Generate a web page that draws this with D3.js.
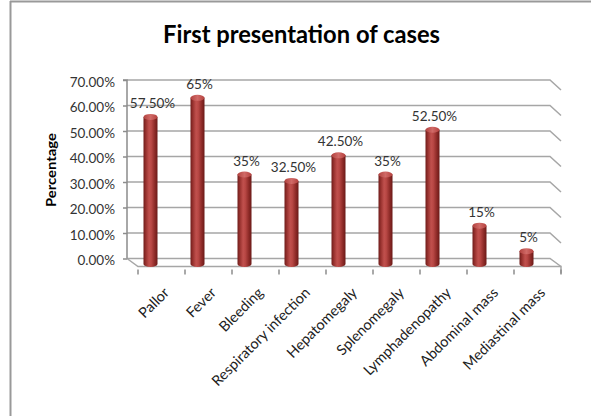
<!DOCTYPE html>
<html>
<head>
<meta charset="utf-8">
<script src="https://cdn.jsdelivr.net/npm/d3@7/dist/d3.min.js"></script>
<style>
html,body{margin:0;padding:0;background:#fff;}
svg{display:block;}
</style>
</head>
<body>
<svg id="chart" width="591" height="416"></svg>
<script>
const categories = ["Pallor","Fever","Bleeding","Respiratory infection","Hepatomegaly","Splenomegaly","Lymphadenopathy","Abdominal mass","Mediastinal mass"];
const values = [57.5, 65, 35, 32.5, 42.5, 35, 52.5, 15, 5];
const valueLabels = ["57.50%","65%","35%","32.50%","42.50%","35%","52.50%","15%","5%"];
const yTicks = [0,10,20,30,40,50,60,70];
const yTickLabels = ["0.00%","10.00%","20.00%","30.00%","40.00%","50.00%","60.00%","70.00%"];
const title = "First presentation of cases";
const yTitle = "Percentage";

const svg = d3.select("#chart");
const FONT = "Lato, 'Open Sans', sans-serif";

// depth offset of the 3D box (back wall -> front edge)
const DX = 11, DY = 8;

// scales
const xBack = d3.scaleBand().domain(categories).range([127, 550]);
const xFront = d3.scaleBand().domain(categories).range([127 + DX, 550 + DX]);
const yBack = d3.scaleLinear().domain([0, 70]).range([258.5, 80]);
const yCyl = d3.scaleLinear().domain([0, 70]).range([264, 85]);

// defs: cylinder gradient
const defs = svg.append("defs");
const g1 = defs.append("linearGradient").attr("id","cyl").attr("x1","0").attr("x2","1").attr("y1","0").attr("y2","0");
[["0%","#6f1c1a"],["18%","#9a3330"],["40%","#c0504d"],["55%","#b94845"],["80%","#8e2b28"],["100%","#6a1917"]]
  .forEach(s=>g1.append("stop").attr("offset",s[0]).attr("stop-color",s[1]));
const g2 = defs.append("linearGradient").attr("id","cyltop").attr("x1","0").attr("x2","1").attr("y1","0").attr("y2","0");
[["0%","#b2423f"],["50%","#d06a67"],["100%","#b5413e"]]
  .forEach(s=>g2.append("stop").attr("offset",s[0]).attr("stop-color",s[1]));

// border
svg.append("line").attr("x1",10.5).attr("y1",1).attr("x2",10.5).attr("y2",416).attr("stroke","#999").attr("stroke-width",2);
svg.append("line").attr("x1",10).attr("y1",1.5).attr("x2",591).attr("y2",1.5).attr("stroke","#999").attr("stroke-width",2);

// title
svg.append("text").attr("x",301.5).attr("y",43).attr("text-anchor","middle")
  .attr("font-family",FONT).attr("font-weight","bold").attr("font-size",24).attr("fill","#000")
  .attr("textLength",277).attr("lengthAdjust","spacingAndGlyphs").text(title);

// y title
svg.append("text").attr("transform","translate(56,170) rotate(-90)").attr("text-anchor","middle")
  .attr("font-family",FONT).attr("font-weight","bold").attr("font-size",14).attr("fill","#000")
  .attr("textLength",74).attr("lengthAdjust","spacingAndGlyphs")
  .text(yTitle);

const x0 = xBack.range()[0], x1 = xBack.range()[1];
const grid = svg.append("g");
// back wall gridlines + right side wall
yTicks.forEach(t=>{
  const y = yBack(t);
  grid.append("path")
    .attr("d", `M${x0},${y}H${x1}L${x1+DX},${y+(t===0?DY:10)}`)
    .attr("fill","none").attr("stroke","#a6a6a6").attr("stroke-width",1.5);
});
// floor left diagonal and front edge
grid.append("path")
  .attr("d",`M${x0},${yBack(0)}L${x0+DX},${yBack(0)+DY}H${x1+DX}V${yBack(0)+DY+7}`)
  .attr("fill","none").attr("stroke","#a6a6a6").attr("stroke-width",1.5);

// y axis
const yAxis = d3.axisLeft(yBack).tickValues(yTicks).tickSize(4).tickPadding(8)
  .tickFormat(d=>yTickLabels[yTicks.indexOf(d)]);
const ya = svg.append("g").attr("transform",`translate(${x0},0)`).call(yAxis);
ya.select(".domain").attr("stroke","#8c8c8c").attr("stroke-width",1.5).attr("d",`M-4,${yBack(70)}H0V${yBack(0)}`);
ya.selectAll(".tick line").attr("stroke","#8c8c8c").attr("stroke-width",1.5);
ya.selectAll(".tick text").attr("font-family",FONT).attr("font-size",13.5).attr("fill","#333").attr("dy","0.45em");

// category ticks
const xa = svg.append("g");
categories.concat([null]).forEach(c=>{
  const x = c===null ? xFront.range()[1] : xFront(c);
  xa.append("line").attr("x1",x).attr("x2",x).attr("y1",yBack(0)+DY+3).attr("y2",yBack(0)+DY+8)
    .attr("stroke","#8c8c8c").attr("stroke-width",1.5);
});

// cylinders
const cw = 14, ry = 3;
const cyl = svg.append("g").selectAll("g").data(categories).join("g");
cyl.each(function(c,i){
  const g = d3.select(this);
  const cx = xBack(c) + xBack.bandwidth()/2;
  const yt = yCyl(values[i]), yb = yCyl(0);
  g.append("path")
    .attr("d",`M${cx-cw/2},${yt}V${yb}A${cw/2},${ry} 0 0 0 ${cx+cw/2},${yb}V${yt}Z`)
    .attr("fill","url(#cyl)");
  g.append("ellipse").attr("cx",cx).attr("cy",yt).attr("rx",cw/2).attr("ry",ry)
    .attr("fill","url(#cyltop)");
  g.append("text").attr("x",cx+2).attr("y",yt-9).attr("text-anchor","middle")
    .attr("font-family",FONT).attr("font-size",13.5).attr("fill","#333").text(valueLabels[i]);
});

// category labels
svg.append("g").selectAll("text").data(categories).join("text")
  .attr("transform",c=>`translate(${xFront(c)+xFront.bandwidth()/2+6},291) rotate(-45)`)
  .attr("text-anchor","end").attr("dominant-baseline","middle")
  .attr("font-family",FONT).attr("font-size",14.5).attr("fill","#222")
  .text(c=>c);
</script>
</body>
</html>
